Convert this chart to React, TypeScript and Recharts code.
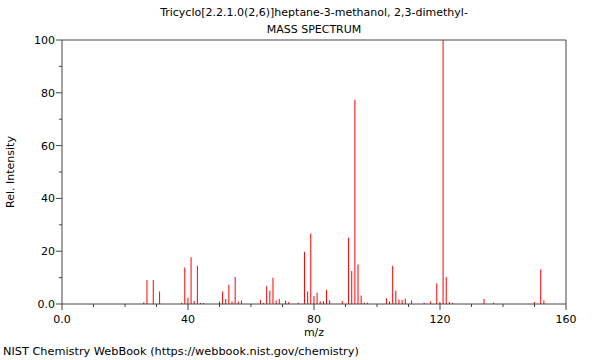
import React from "react";
import { ComposedChart, Bar, XAxis, YAxis, ReferenceLine } from "recharts";

// m/z values and relative intensities
const mz = [
  26, 27, 29, 31, 38, 39, 40, 41, 42, 43, 44, 45,
  50, 51, 52, 53, 54, 55, 56, 57, 63, 64, 65, 66, 67, 68, 69,
  71, 72, 75, 77, 78, 79, 80, 81, 82, 83, 84, 85, 89,
  91, 92, 93, 94, 95, 96, 97, 103, 104, 105, 106, 107, 108, 109,
  111, 115, 117, 119, 120, 121, 122, 123, 124, 134, 137, 150, 152, 153,
];
const relIntensity = [
  0.7, 9.1, 9.1, 4.7, 0.5, 13.8, 2.4, 17.7, 1.1, 14.5, 0.4, 0.4,
  0.9, 4.7, 1.9, 7.3, 0.9, 10.2, 0.9, 1.3, 1.5, 0.4, 6.7, 5.0, 9.9, 1.3, 1.9,
  1.2, 0.8, 0.5, 19.8, 4.7, 26.7, 3.0, 4.3, 0.9, 1.1, 5.4, 1.3, 1.1,
  25.1, 12.5, 77.4, 15.0, 3.2, 0.6, 0.5, 2.2, 0.9, 14.5, 5.0, 1.7, 1.5, 2.0,
  1.3, 0.5, 0.9, 7.9, 0.8, 100, 10.2, 0.8, 0.5, 1.9, 0.5, 0.8, 13.1, 1.3,
];

const xTicks = [0, 10, 20, 30, 40, 50, 60, 70, 80, 90, 100, 110, 120, 130, 140, 150, 160];
const xLabels = [0, 40, 80, 120, 160];
const yTicks = [0, 10, 20, 30, 40, 50, 60, 70, 80, 90, 100];
const yLabels = [0, 20, 40, 60, 80, 100];

const title = "Tricyclo[2.2.1.0(2,6)]heptane-3-methanol, 2,3-dimethyl-";
const subtitle = "MASS SPECTRUM";
const footer = "NIST Chemistry WebBook (https://webbook.nist.gov/chemistry)";

const FONT = "DejaVu Sans, sans-serif";
const AXIS = "#444";

const data = mz.map((m, i) => ({ mz: m, rel: relIntensity[i] }));

const fmt = (v: number) => (v === 0 ? "0.0" : String(v));

function XTick({ x, y, payload }: any) {
  const major = xLabels.includes(payload.value);
  return (
    <g>
      <line x1={x} x2={x} y1={y} y2={y + (major ? 6 : 3)} stroke={AXIS} />
      {major && (
        <text x={x} y={y + 19} textAnchor="middle" fontSize={11} fontFamily={FONT} fill="#000">
          {fmt(payload.value)}
        </text>
      )}
    </g>
  );
}

function YTick({ x, y, payload }: any) {
  const major = yLabels.includes(payload.value);
  return (
    <g>
      <line x1={x} x2={x - (major ? 6 : 3)} y1={y} y2={y} stroke={AXIS} />
      {major && (
        <text x={x - 7} y={y + 4} textAnchor="end" fontSize={11} fontFamily={FONT} fill="#000">
          {fmt(payload.value)}
        </text>
      )}
    </g>
  );
}

export default function App() {
  return (
    <div style={{ position: "absolute", left: 0, top: 0, width: 600, height: 360, fontFamily: FONT, background: "#fff" }}>
      <div style={{ position: "absolute", top: 6, left: 62, width: 504, textAlign: "center", fontSize: 11 }}>{title}</div>
      <div style={{ position: "absolute", top: 23, left: 62, width: 504, textAlign: "center", fontSize: 11 }}>{subtitle}</div>
      <ComposedChart width={600} height={360} data={data} margin={{ top: 40, right: 34, bottom: 26, left: 0 }}>
        <XAxis
          dataKey="mz"
          type="number"
          domain={[0, 160]}
          ticks={xTicks}
          interval={0}
          tickSize={0}
          tickMargin={0}
          height={30}
          stroke={AXIS}
          tick={<XTick />}
          label={{ value: "m/z", position: "insideBottom", offset: -2, fontSize: 11, fontFamily: FONT, fill: "#000" }}
        />
        <YAxis
          type="number"
          domain={[0, 100]}
          ticks={yTicks}
          interval={0}
          tickSize={0}
          tickMargin={0}
          width={62}
          stroke={AXIS}
          tick={<YTick />}
          label={{ value: "Rel. Intensity", angle: -90, position: "insideLeft", offset: 10, fontSize: 11, fontFamily: FONT, fill: "#000", style: { textAnchor: "middle" } }}
        />
        <ReferenceLine y={100} stroke={AXIS} ifOverflow="visible" />
        <ReferenceLine x={160} stroke={AXIS} ifOverflow="visible" />
        <Bar dataKey="rel" fill="#ff0000" barSize={1} isAnimationActive={false} />
      </ComposedChart>
      <div style={{ position: "absolute", top: 345, left: 3, fontSize: 11.3, whiteSpace: "nowrap" }}>{footer}</div>
    </div>
  );
}
